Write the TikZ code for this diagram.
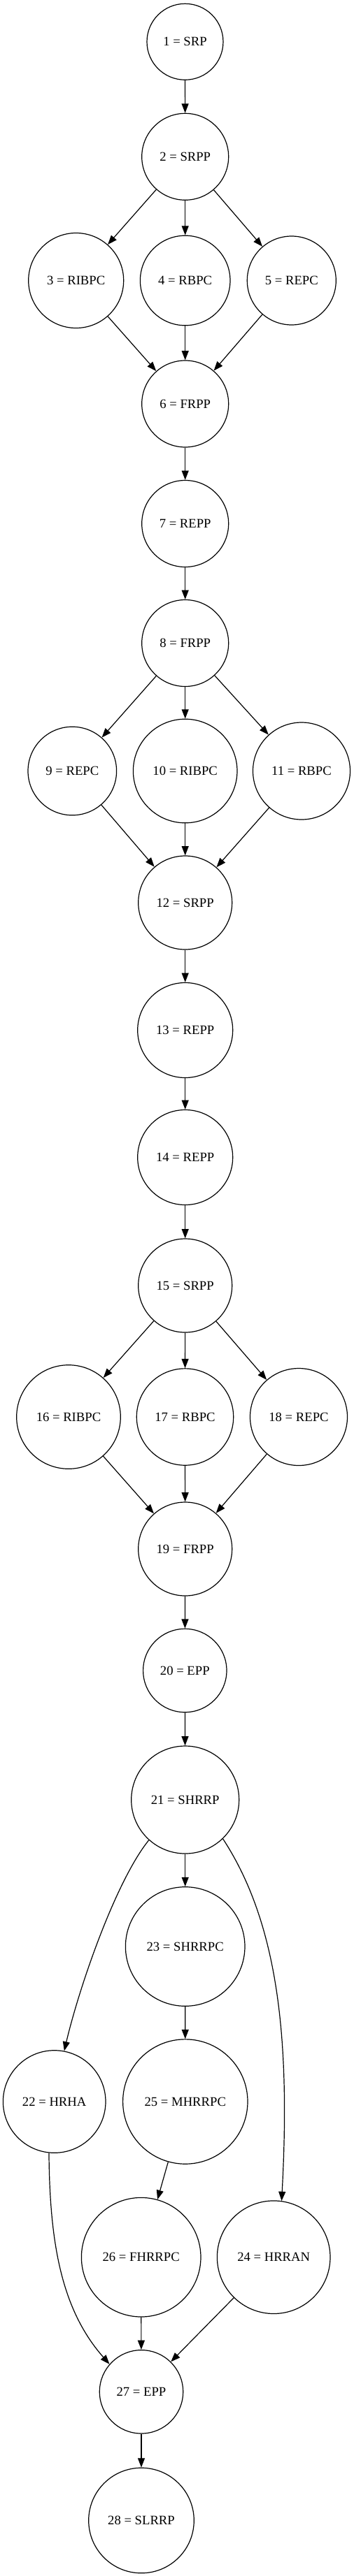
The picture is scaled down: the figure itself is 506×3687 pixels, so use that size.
\documentclass[tikz,border=0pt]{standalone}
\usepackage{fontspec}
\setmainfont{Liberation Serif}
\usetikzlibrary{arrows.meta}
\tikzset{
  gv/.style={circle,draw,inner sep=0pt,line width=0.9pt,font=\fontsize{14}{16}\selectfont},
  gvedge/.style={line width=0.9pt,-{Triangle[length=10pt,width=7.5pt]}}
}
\begin{document}
\begin{tikzpicture}[x=0.75pt,y=-0.75pt]
\fill[white] (0,0) rectangle (506,3687);
\useasboundingbox (0,0) rectangle (506,3687);
\node[gv,minimum size=81.75pt] (n1) at (264.5,59.8) {1 = SRP};
\node[gv,minimum size=93pt] (n2) at (264.7,224.3) {2 = SRPP};
\node[gv,minimum size=102pt] (n3) at (108.7,401.5) {3 = RIBPC};
\node[gv,minimum size=96.45pt] (n4) at (264.7,401.5) {4 = RBPC};
\node[gv,minimum size=95.25pt] (n5) at (416.8,401.5) {5 = REPC};
\node[gv,minimum size=93pt] (n6) at (264.7,578) {6 = FRPP};
\node[gv,minimum size=93pt] (n7) at (264.7,749.5) {7 = REPP};
\node[gv,minimum size=93pt] (n8) at (264.7,920.5) {8 = FRPP};
\node[gv,minimum size=94.95pt] (n9) at (103.3,1103.5) {9 = REPC};
\node[gv,minimum size=111.45pt] (n10) at (264.7,1103.5) {10 = RIBPC};
\node[gv,minimum size=104.25pt] (n11) at (431,1103.5) {11 = RBPC};
\node[gv,minimum size=100.5pt] (n12) at (264.7,1292) {12 = SRPP};
\node[gv,minimum size=102pt] (n13) at (264.7,1474.5) {13 = REPP};
\node[gv,minimum size=102pt] (n14) at (264.7,1656.5) {14 = REPP};
\node[gv,minimum size=100.5pt] (n15) at (264.7,1840) {15 = SRPP};
\node[gv,minimum size=111.45pt] (n16) at (98,2028) {16 = RIBPC};
\node[gv,minimum size=103.8pt] (n17) at (264.5,2028) {17 = RBPC};
\node[gv,minimum size=104.25pt] (n18) at (427,2028) {18 = REPC};
\node[gv,minimum size=100.5pt] (n19) at (264.7,2217) {19 = FRPP};
\node[gv,minimum size=89.55pt] (n20) at (264.3,2391) {20 = EPP};
\node[gv,minimum size=115.5pt] (n21) at (264.7,2576) {21 = SHRRP};
\node[gv,minimum size=127.95pt] (n23) at (264.7,2786) {23 = SHRRPC};
\node[gv,minimum size=109.95pt] (n22) at (77.7,3008) {22 = HRHA};
\node[gv,minimum size=133.8pt] (n25) at (264.8,3008) {25 = MHRRPC};
\node[gv,minimum size=127.95pt] (n26) at (201.7,3230.7) {26 = FHRRPC};
\node[gv,minimum size=121.2pt] (n24) at (391.2,3230.7) {24 = HRRAN};
\node[gv,minimum size=89.55pt] (n27) at (202,3423.3) {27 = EPP};
\node[gv,minimum size=112.95pt] (n28) at (202,3607.5) {28 = SLRRP};

\draw[gvedge] (n1) -- (n2);
\draw[gvedge] (n2) -- (n3);
\draw[gvedge] (n2) -- (n4);
\draw[gvedge] (n2) -- (n5);
\draw[gvedge] (n3) -- (n6);
\draw[gvedge] (n4) -- (n6);
\draw[gvedge] (n5) -- (n6);
\draw[gvedge] (n6) -- (n7);
\draw[gvedge] (n7) -- (n8);
\draw[gvedge] (n8) -- (n9);
\draw[gvedge] (n8) -- (n10);
\draw[gvedge] (n8) -- (n11);
\draw[gvedge] (n9) -- (n12);
\draw[gvedge] (n10) -- (n12);
\draw[gvedge] (n11) -- (n12);
\draw[gvedge] (n12) -- (n13);
\draw[gvedge] (n13) -- (n14);
\draw[gvedge] (n14) -- (n15);
\draw[gvedge] (n15) -- (n16);
\draw[gvedge] (n15) -- (n17);
\draw[gvedge] (n15) -- (n18);
\draw[gvedge] (n16) -- (n19);
\draw[gvedge] (n17) -- (n19);
\draw[gvedge] (n18) -- (n19);
\draw[gvedge] (n19) -- (n20);
\draw[gvedge] (n20) -- (n21);
\draw[gvedge] (n21) -- (n23);
\draw[gvedge] (n21.228.3) .. controls (165,2693) and (113,2845) .. (n22.79.8);
\draw[gvedge] (n21.314.3) .. controls (400.8,2757.4) and (414.3,2930) .. (n24.82.4);
\draw[gvedge] (n23) -- (n25);
\draw[gvedge] (n25) -- (n26);
\draw[gvedge] (n22.264.8) .. controls (71,3211) and (88,3306) .. (n27.139.7);
\draw[gvedge] (n26) -- (n27);
\draw[gvedge] (n24) -- (n27);
\draw[gvedge] (n27) -- (n28);
\end{tikzpicture}
\end{document}
